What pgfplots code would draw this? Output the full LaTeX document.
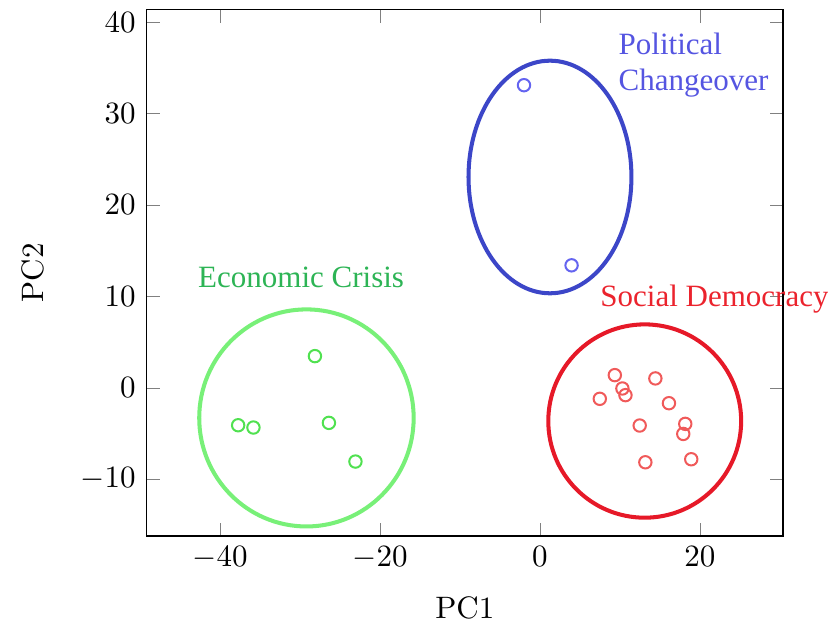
\documentclass[border=0pt]{standalone}
\usepackage{pgfplots}
\pgfplotsset{compat=1.18}
\usepackage{fontspec}
\newfontfamily\timesfont{Liberation Serif}
\definecolor{gmark}{RGB}{80,225,80}
\definecolor{gell}{RGB}{120,240,120}
\definecolor{gtext}{RGB}{45,180,85}
\definecolor{rmark}{RGB}{240,90,90}
\definecolor{rell}{RGB}{230,25,40}
\definecolor{rtext}{RGB}{235,35,45}
\definecolor{bmark}{RGB}{100,100,240}
\definecolor{bell}{RGB}{60,70,200}
\definecolor{btext}{RGB}{85,85,225}
\begin{document}
\begin{tikzpicture}
\begin{axis}[
  scale only axis,
  width=205.3pt, height=169.9pt,
  xmin=-49.2, xmax=30.4, ymin=-16.2, ymax=41.4,
  xtick={-40,-20,0,20}, ytick={-10,0,10,20,30,40},
  xlabel={PC1}, ylabel={PC2},
  xlabel shift=2pt, ylabel shift=5pt,
  axis line style={line width=0.5pt},
  clip=false,
]
\addplot[only marks, mark=o, mark size=2pt, mark options={line width=0.65pt}, draw=bmark, color=bmark] coordinates {
(-2.0,33.1) (3.95,13.4)
};
\addplot[only marks, mark=o, mark size=2pt, mark options={line width=0.65pt}, draw=rmark, color=rmark] coordinates {
(9.36,1.39) (14.43,1.03) (10.31,-0.07) (10.69,-0.80) (7.48,-1.20) (16.13,-1.68)
(12.47,-4.12) (18.17,-3.94) (17.92,-5.04) (13.18,-8.14) (18.92,-7.81)
};
\addplot[only marks, mark=o, mark size=2pt, mark options={line width=0.65pt}, draw=gmark, color=gmark] coordinates {
(-28.15,3.47) (-37.75,-4.09) (-35.84,-4.34) (-26.40,-3.83) (-23.08,-8.06)
};
\draw[bell, line width=1.3pt] (axis cs:1.25,23.06) ellipse [x radius=10.19, y radius=12.72];
\draw[rell, line width=1.3pt] (axis cs:13.10,-3.63) ellipse [x radius=12.06, y radius=10.57];
\draw[gell, line width=1.3pt] (axis cs:-29.21,-3.29) ellipse [x radius=13.41, y radius=11.87];
\node[anchor=base west, inner sep=0pt, text=btext, font=\timesfont\fontsize{10}{12}\selectfont] at (axis cs:9.77,36.44) {Political};
\node[anchor=base west, inner sep=0pt, text=btext, font=\timesfont\fontsize{10}{12}\selectfont] at (axis cs:9.77,32.55) {Changeover};
\node[anchor=base west, inner sep=0pt, text=rtext, font=\timesfont\fontsize{10}{12}\selectfont] at (axis cs:7.48,8.95) {Social Democracy};
\node[anchor=base west, inner sep=0pt, text=gtext, font=\timesfont\fontsize{10}{12}\selectfont] at (axis cs:-42.82,10.95) {Economic Crisis};
\end{axis}
\pgfresetboundingbox
\path[use as bounding box] ([shift={(-47.3pt,-28.1pt)}]current axis.south west) rectangle ([shift={(14.5pt,3pt)}]current axis.north east);
\end{tikzpicture}
\end{document}
